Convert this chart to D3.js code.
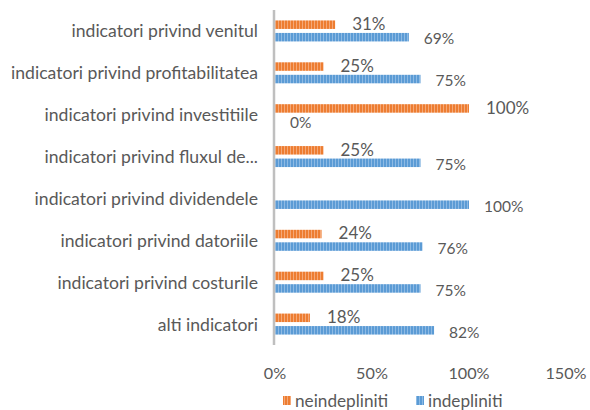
<!DOCTYPE html>
<html>
<head>
<meta charset="utf-8">
<script src="https://cdn.jsdelivr.net/npm/d3@7"></script>
<style>
  body { margin: 0; background: #fff; }
  text { font-family: Lato, "Open Sans", sans-serif; fill: #595959; }
</style>
</head>
<body>
<svg id="chart" width="590" height="410"></svg>
<script>
// data, top row first
const categories = [
  "indicatori privind venitul",
  "indicatori privind profitabilitatea",
  "indicatori privind investitiile",
  "indicatori privind fluxul de...",
  "indicatori privind dividendele",
  "indicatori privind datoriile",
  "indicatori privind costurile",
  "alti indicatori"
];
const neindepliniti = [31, 25, 100, 25, 0, 24, 25, 18];
const indepliniti = [69, 75, 0, 75, 100, 76, 75, 82];
const xTicks = [0, 50, 100, 150];
const seriesNames = ["neindepliniti", "indepliniti"];

const ORANGE = "#ED7D31";
const BLUE = "#5B9BD5";

const svg = d3.select("#chart");

// striped fill like the excel texture
const defs = svg.append("defs");
function stripes(id, base, light) {
  const p = defs.append("pattern")
    .attr("id", id)
    .attr("patternUnits", "userSpaceOnUse")
    .attr("width", 3)
    .attr("height", 10);
  p.append("rect").attr("width", 3).attr("height", 10).attr("fill", base);
  p.append("rect").attr("x", 2).attr("width", 1).attr("height", 10).attr("fill", light);
}
stripes("stripeO", ORANGE, "#F5A877");
stripes("stripeB", BLUE, "#8DBAE4");

const x = d3.scaleLinear().domain([0, 150]).range([275, 566]);
const y = d3.scaleBand().domain(categories).range([10, 345]);

const rows = categories.map((c, i) => ({ cat: c, o: neindepliniti[i], b: indepliniti[i] }));

const g = svg.append("g");

// orange bars
g.selectAll(".barO")
  .data(rows)
  .enter()
  .append("rect")
  .attr("x", x(0))
  .attr("y", (d) => y(d.cat) + y.bandwidth() / 2 - 10.5)
  .attr("width", (d) => x(d.o) - x(0))
  .attr("height", 8.5)
  .attr("fill", "url(#stripeO)");

// blue bars
g.selectAll(".barB")
  .data(rows)
  .enter()
  .append("rect")
  .attr("x", x(0))
  .attr("y", (d) => y(d.cat) + y.bandwidth() / 2 + 2)
  .attr("width", (d) => x(d.b) - x(0))
  .attr("height", 8.5)
  .attr("fill", "url(#stripeB)");

// labels
g.selectAll(".lblO")
  .data(rows.filter((d) => d.o > 0))
  .enter()
  .append("text")
  .attr("x", (d) => x(d.o) + 17)
  .attr("y", (d) => y(d.cat) + y.bandwidth() / 2 - 7.5)
  .attr("dominant-baseline", "central")
  .style("font-size", "17px")
  .text((d) => d.o + "%");

g.selectAll(".lblB")
  .data(rows)
  .enter()
  .append("text")
  .attr("x", (d) => x(d.b) + 15)
  .attr("y", (d) => y(d.cat) + y.bandwidth() / 2 + 7.5)
  .attr("dominant-baseline", "central")
  .style("font-size", "15.5px")
  .text((d) => d.b + "%");

// category labels
svg.append("g")
  .selectAll("text")
  .data(categories)
  .enter()
  .append("text")
  .attr("x", 258)
  .attr("y", (d) => y(d) + y.bandwidth() / 2)
  .attr("text-anchor", "end")
  .attr("dominant-baseline", "central")
  .style("font-size", "17.6px")
  .text((d) => d);

// vertical axis line
svg.append("line")
  .attr("x1", 274).attr("x2", 274)
  .attr("y1", 10).attr("y2", 345)
  .attr("stroke", "#BFBFBF")
  .attr("stroke-width", 2.5);

// x tick labels
svg.append("g")
  .selectAll("text")
  .data(xTicks)
  .enter()
  .append("text")
  .attr("x", (d) => x(d))
  .attr("y", 372)
  .attr("text-anchor", "middle")
  .attr("dominant-baseline", "central")
  .style("font-size", "16.2px")
  .text((d) => d + "%");

// legend
const legend = svg.append("g");
const legX = [283, 416];
const legColors = ["url(#stripeO)", "url(#stripeB)"];
seriesNames.forEach((s, i) => {
  legend.append("rect")
    .attr("x", legX[i]).attr("y", 396)
    .attr("width", 8).attr("height", 9)
    .attr("fill", legColors[i]);
  legend.append("text")
    .attr("x", legX[i] + 12)
    .attr("y", 400)
    .attr("dominant-baseline", "central")
    .style("font-size", "17.2px")
    .text(s);
});
</script>
</body>
</html>
